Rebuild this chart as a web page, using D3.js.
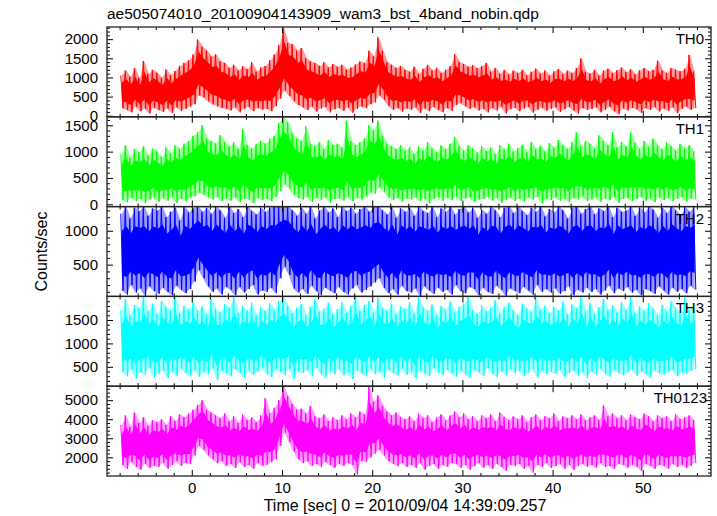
<!DOCTYPE html>
<html><head><meta charset="utf-8">
<script src="https://cdn.jsdelivr.net/npm/d3@7"></script>
<style>body{margin:0;background:#fff} text{font-family:"Liberation Sans",Arial,Helvetica,sans-serif;fill:#000}</style>
</head><body><svg id="c" width="717" height="516"></svg>
<script>
// bins: start time and width (s)
const binStart = -8, binWidth = 0.5;

// per-bin maximum / minimum count rates (counts/sec)
const th0Hi = [1050,1180,1020,1240,980,1430,1090,1200, 1120,990,1210,1060,1170,1300,1380,1450,
  1600,1990,1800,1700,1550,1600,1420,1380, 1250,1330,1180,1300,1220,1400,1150,1260,
  1300,1450,1600,1850,2300,1900,1870,1700, 1770,1500,1420,1380,1300,1400,1260,1350,
  1280,1330,1200,1260,1340,1420,1380,1700, 1550,2050,1700,1400,1330,1250,1300,1200,
  1150,1280,1100,1230,1330,1180,1250,1120, 1200,1300,1610,1400,1350,1280,1320,1240,
  1300,1380,1150,1250,1100,1200,1080,1180, 1120,1200,1060,1150,1230,1100,1180,1050,
  1160,1220,1090,1180,1120,1250,1500,1150, 1100,1200,1050,1180,1230,1120,1190,1260,
  1140,1220,1080,1190,1250,1160,1200,1440, 1180,1120,1250,1200,1160,1230,1590,1150];
const th0Lo = [200,150,90,230,120,180,60,210, 150,100,190,70,220,130,180,240,
  300,530,480,380,300,250,200,180, 140,220,90,180,230,120,200,160,
  180,120,250,450,660,520,380,280, 220,150,240,110,190,230,90,170,
  200,130,220,80,180,240,200,300, 350,530,420,260,150,200,110,190,
  160,220,70,190,120,230,150,90, 200,130,280,330,250,180,220,140,
  180,90,200,140,230,60,170,210, 120,190,230,80,160,210,130,180,
  220,100,170,230,140,60,200,150, 180,220,90,160,230,120,40,190,
  140,210,170,80,200,150,230,110, 190,130,220,70,180,240,150,200];

const th1Hi = [950,1120,880,1050,990,1100,920,1060, 1000,900,1080,970,1120,1050,1150,1200,
  1300,1370,1500,1250,1200,1150,1310,1180, 1100,1180,1050,1430,1120,1060,1150,1200,
  1150,1250,1300,1550,1650,1560,1350,1250, 1200,1480,1150,1100,1180,1050,1220,1120,
  1150,1080,1590,1200,1120,1180,1250,1500, 1400,1590,1300,1150,1100,1050,1120,1020,
  1080,950,1100,1020,1180,1060,990,1120, 1050,1150,1280,1100,1020,1120,1060,980,
  1100,1010,1080,950,1120,1040,1150,1000, 1070,1130,990,1180,1050,1110,1000,1160,
  1080,1220,1120,1050,1180,1370,1100,1200, 1150,1060,1310,1200,1120,1370,1080,1180,
  1100,1370,1160,1050,1200,1090,1250,1120, 1040,1180,1100,1020,1150,1060,1120,1000];
const th1Lo = [80,40,120,60,100,20,90,130, 50,110,70,140,30,100,60,120,
  150,220,180,130,90,140,60,110, 70,130,40,110,90,20,120,80,
  100,60,140,250,380,300,180,120, 90,140,50,120,80,130,30,100,
  110,70,140,60,120,90,150,220, 200,320,240,130,80,120,50,110,
  90,130,60,110,20,100,140,70, 120,80,150,60,110,130,40,90,
  100,140,70,120,30,90,130,60, 110,50,130,90,140,20,100,80,
  130,70,110,40,120,90,150,60, 90,130,50,110,80,140,30,100,
  120,60,100,140,70,110,40,130, 80,120,60,100,140,50,110,90];

const th2Hi = [1250,1350,1180,1340,1290,1356,1220,1330, 1300,1356,1200,1280,1340,1150,1356,1270,
  1330,1356,1280,1340,1250,1356,1300,1190, 1356,1260,1320,1200,1356,1290,1240,1340,
  1280,1340,1356,1356,1356,1356,1300,1220, 1340,1250,1356,1180,1300,1356,1270,1330,
  1200,1356,1290,1340,1250,1320,1356,1280, 1356,1356,1300,1240,1356,1190,1330,1280,
  1340,1220,1356,1290,1260,1356,1200,1330, 1280,1356,1240,1320,1356,1270,1340,1190,
  1310,1250,1356,1300,1200,1340,1356,1260, 1356,1290,1230,1340,1280,1356,1210,1320,
  1270,1356,1300,1180,1340,1356,1250,1320, 1356,1240,1330,1290,1356,1200,1340,1280,
  1300,1356,1220,1340,1270,1356,1310,1190, 1340,1260,1356,1300,1230,1350,1280,1356];
const th2Lo = [120,60,200,90,150,40,180,110, 70,160,100,50,190,130,80,140,
  250,420,300,180,100,150,60,170, 130,50,170,90,140,200,60,120,
  100,160,80,300,470,350,150,90, 140,70,190,110,50,160,120,80,
  170,100,60,150,200,90,130,180, 240,300,160,80,140,60,190,110,
  90,150,40,180,120,70,160,100, 130,60,200,110,80,170,140,50,
  160,100,70,190,130,40,150,110, 80,170,120,60,200,100,140,90,
  150,70,110,180,50,130,90,160, 100,140,60,120,190,80,150,110,
  170,90,130,50,140,110,70,180, 120,60,160,100,140,80,190,130];

const th3Hi = [1700,1950,1600,1820,1750,2000,1680,1850, 1620,1900,1780,1700,2000,1650,1800,1720,
  1880,1700,1790,1620,1950,1730,1660,1840, 1760,2000,1640,1800,1700,1870,1590,1780,
  1690,1850,1720,1900,2000,1800,1650,1760, 1840,1600,1780,1950,1680,1740,1870,1620,
  1730,1880,1650,1800,2000,1700,1820,1900, 1660,1980,1750,1700,1850,1620,1790,1730,
  1880,1640,2000,1760,1700,1830,1590,1800, 1720,1900,1660,1780,1850,2000,1700,1630,
  1810,1690,1760,1920,1640,1780,1870,1700, 1600,1850,1740,1680,1960,1720,1800,1650,
  1780,1700,1900,1620,1830,1750,2000,1680, 1860,1640,1770,1950,1700,1810,1660,1880,
  1720,2000,1650,1790,1700,1860,1740,1600, 1820,1680,1900,1750,1640,1980,1710,1800];
const th3Lo = [400,300,450,250,380,330,480,280, 350,420,260,400,310,460,370,300,
  430,280,390,340,470,220,410,360, 300,450,370,260,420,330,390,480,
  350,280,440,390,320,460,250,400, 370,430,300,480,350,270,410,340,
  460,320,380,240,420,360,300,450, 340,400,270,430,370,310,460,330,
  390,250,420,350,300,470,380,320, 440,360,290,410,340,260,430,380,
  310,470,350,280,400,330,450,360, 420,300,380,460,270,410,340,390,
  350,440,280,370,420,310,390,260, 400,330,460,350,290,430,370,320,
  380,450,310,400,340,270,420,360, 330,390,430,300,380,350,410,440];

const th0123Hi = [3700,4200,3600,4350,3800,4100,3650,3950, 3850,4000,3700,4150,3900,4250,4100,4300,
  4500,4750,5000,4500,4350,4200,4050,4300, 3900,4150,3800,4250,3950,4100,3850,4200,
  5100,4300,4600,5000,5700,5200,4800,4500, 4550,4300,4700,4150,4050,4250,3900,4100,
  3950,4200,4000,4300,4100,4400,4250,5700, 4900,5260,4700,4400,4200,4350,4100,4000,
  4150,3900,4300,4050,4200,3850,4100,4250, 3950,4200,4400,4100,4300,4000,4150,3900,
  4200,4050,4250,3900,4350,4100,3950,4150, 4000,4200,3850,4100,4250,3950,4150,4050,
  4300,3900,4150,4050,4200,4000,4250,3950, 4100,4200,3950,4720,4150,4300,4050,4200,
  3950,4250,4100,4000,4300,4150,3900,4200, 4050,4150,3900,4250,4000,4100,4200,3950];
const th0123Lo = [1600,1400,1750,1500,1350,1650,1450,1550, 1500,1700,1400,1600,1800,1550,1700,1650,
  2100,2600,2400,2100,1900,1700,1800,1550, 1650,1450,1750,1500,1600,1400,1700,1550,
  1600,1750,1900,2600,3300,2800,2300,1900, 1700,1800,1550,1650,1500,1750,1600,1450,
  1650,1550,1700,1600,1100,1800,1750,2000, 2200,2400,2100,1800,1650,1550,1700,1500,
  1600,1450,1700,1350,1550,1650,1400,1600, 1500,1700,1650,1450,1600,1350,1550,1700,
  1450,1600,1400,1650,1500,1300,1600,1550, 1650,1400,1550,1200,1600,1500,1700,1450,
  1550,1650,1400,1600,1350,1550,1650,1500, 1600,1450,1700,1500,1550,1400,1650,1600,
  1450,1600,1500,1300,1650,1550,1400,1600, 1550,1400,1650,1500,1600,1450,1550,1700];

const panelNames = ["TH0","TH1","TH2","TH3","TH0123"];
const panelColors = ["#ff0000","#00ff00","#0000ff","#00ffff","#ff00ff"];
const seriesHi = [th0Hi, th1Hi, th2Hi, th3Hi, th0123Hi];
const seriesLo = [th0Lo, th1Lo, th2Lo, th3Lo, th0123Lo];
const yDomains = [[-27,2318],[-44,1661],[32,1356],[86,2004],[1020,5733]];
const yTickLabels = [[0,500,1000,1500,2000],[0,500,1000,1500],[500,1000],[500,1000,1500],[2000,3000,4000,5000]];
const yMinorStep = [100,100,100,100,200];
const xDomain = [-9.4, 57.56];
const xTickLabels = [0,10,20,30,40,50];
const xMinorStep = 2;
const titleText = "ae505074010_20100904143909_wam3_bst_4band_nobin.qdp";
const xLabelText = "Time [sec] 0 = 2010/09/04 14:39:09.257";
const yLabelText = "Counts/sec";

const svg = d3.select("#c");
const L = 107, R = 711, T = 27, B = 476;
const ph = (B - T) / 5;
const x = d3.scaleLinear().domain(xDomain).range([L, R]);
const fontSize = 15;

const xMinorVals = d3.range(-8, 57, xMinorStep).filter(v => !xTickLabels.includes(v));

panelNames.forEach((name, p) => {
  const top = T + p * ph, bot = top + ph;
  const y = d3.scaleLinear().domain(yDomains[p]).range([bot, top]);
  const hi = seriesHi[p], lo = seriesLo[p];
  const g = svg.append("g");
  const cid = "clip" + p;
  svg.append("clipPath").attr("id", cid).append("rect")
    .attr("x", L).attr("y", top).attr("width", R - L).attr("height", ph);
  const dg = g.append("g").attr("clip-path", `url(#${cid})`);
  const idx = d3.range(hi.length);
  const tc = i => binStart + binWidth * (i + 0.5);
  // light fringe between bin minimum and maximum
  const fringe = d3.area().x(i => x(tc(i))).y0(i => y(lo[i])).y1(i => y(hi[i]));
  dg.append("path").attr("d", fringe(idx)).attr("fill", panelColors[p]).attr("fill-opacity", 0.4);
  // dense core
  const core = d3.area()
    .x(i => x(tc(i)))
    .y0(i => y(lo[i] + 0.2 * (hi[i] - lo[i])))
    .y1(i => y(hi[i] - 0.22 * (hi[i] - lo[i])));
  dg.append("path").attr("d", core(idx)).attr("fill", panelColors[p]);
  // noisy trace: max then min within each bin
  const pts = [];
  idx.forEach(i => {
    const t0 = binStart + binWidth * i;
    pts.push([t0 + binWidth * 0.25, hi[i]]);
    pts.push([t0 + binWidth * 0.75, lo[i]]);
  });
  const line = d3.line().x(d => x(d[0])).y(d => y(d[1]));
  dg.append("path").attr("d", line(pts)).attr("fill", "none")
    .attr("stroke", panelColors[p]).attr("stroke-width", 1);

  // axes (inward ticks)
  const mk = (axis, tr, vals, size, labels, pad) => {
    const a = g.append("g").attr("transform", tr)
      .call(axis.tickValues(vals).tickSizeInner(-size).tickSizeOuter(0).tickPadding(pad || 9)
        .tickFormat(labels ? d3.format("d") : ""));
    a.select(".domain").remove();
    a.selectAll("line").attr("stroke", "#000").attr("stroke-width", 1);
    a.selectAll("text").attr("font-size", fontSize).attr("font-family", null);
    return a;
  };
  mk(d3.axisBottom(x), `translate(0,${bot})`, xTickLabels, 6, p === 4, 6);
  mk(d3.axisBottom(x), `translate(0,${bot})`, xMinorVals, 3, false);
  mk(d3.axisTop(x), `translate(0,${top})`, xTickLabels, 6, false);
  mk(d3.axisTop(x), `translate(0,${top})`, xMinorVals, 3, false);
  const yMinor = d3.range(Math.ceil(yDomains[p][0] / yMinorStep[p]) * yMinorStep[p], yDomains[p][1], yMinorStep[p])
    .filter(v => !yTickLabels[p].includes(v) && (p === 4 || v % 500 !== 0));
  mk(d3.axisLeft(y), `translate(${L},0)`, yTickLabels[p], 6, true);
  mk(d3.axisLeft(y), `translate(${L},0)`, yMinor, 3, false);
  mk(d3.axisRight(y), `translate(${R},0)`, yTickLabels[p], 6, false);
  mk(d3.axisRight(y), `translate(${R},0)`, yMinor, 3, false);

  g.append("rect").attr("x", L).attr("y", top).attr("width", R - L).attr("height", ph)
    .attr("fill", "none").attr("stroke", "#222").attr("stroke-width", 1.3);
  g.append("text").attr("x", p === 4 ? 707 : 704).attr("y", top + 17).attr("text-anchor", "end")
    .attr("font-size", fontSize).text(name);
});

svg.append("text").attr("x", L).attr("y", 19).attr("font-size", 15.5).text(titleText);
svg.append("text").attr("x", 405).attr("y", 511).attr("text-anchor", "middle")
  .attr("font-size", 16).text(xLabelText);
svg.append("text").attr("transform", `translate(47,${(T + B) / 2}) rotate(-90)`)
  .attr("text-anchor", "middle").attr("font-size", 16).text(yLabelText);
</script></body></html>
